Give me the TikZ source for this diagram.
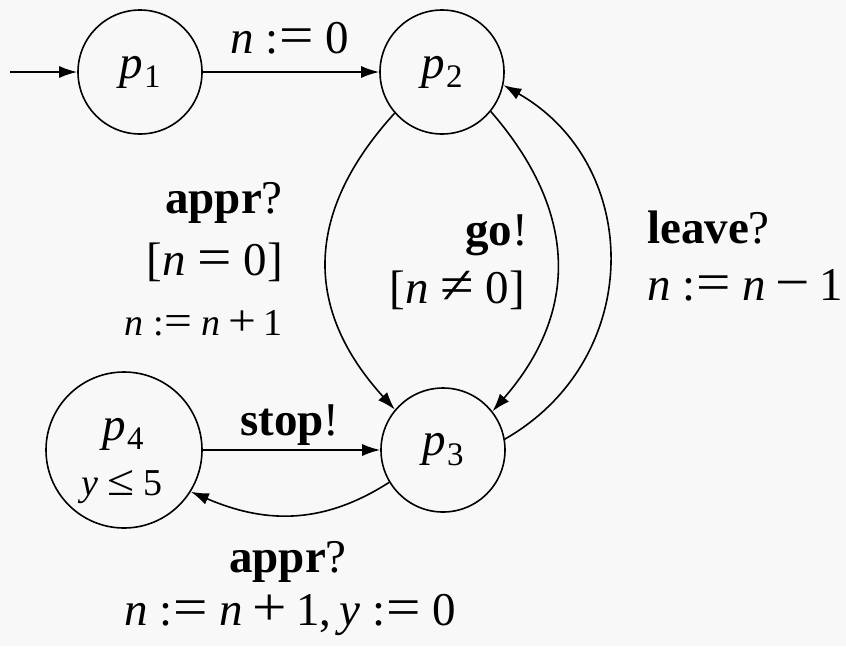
\documentclass[tikz,border=0pt]{standalone}
\usepackage{fontspec}
\setmainfont{Liberation Serif}
\usepackage{graphicx}
\usetikzlibrary{arrows.meta}
\definecolor{bgc}{RGB}{248,248,248}
\newcommand\vv[1]{\textit{#1}}
\newcommand\sbs[1]{\kern0.03em\raisebox{-0.21em}{\scalebox{0.7}{#1}}}
\newcommand\sym[1]{\scalebox{1.3}[1.15]{#1}}
\newcommand\asg{\hspace{0.25em}:\kern0.02em\sym{=}\hspace{0.25em}}
\newcommand\rl[1]{\hspace{0.25em}\sym{#1}\hspace{0.25em}}
\newcommand\bn[1]{\hspace{0.2em}\sym{#1}\hspace{0.2em}}
\begin{document}
\begin{tikzpicture}[x=1pt,y=-1pt,
  every node/.style={font=\fontsize{47}{56}\selectfont},
  state/.style={circle,draw,line width=1.6pt,inner sep=0pt,minimum size=124pt},
  edge/.style={-{Latex[length=18pt,width=12pt]},line width=1.6pt},
  lbl/.style={inner sep=0pt},
  small/.style={font=\fontsize{38}{44}\selectfont}]
\fill[bgc] (0,0) rectangle (846,646);
\useasboundingbox (0,0) rectangle (846,646);
\node[state] (p1) at (140,72) {\vv{p}\sbs{1}};
\node[state] (p2) at (442,72) {\vv{p}\sbs{2}};
\node[state] (p3) at (443,450) {\vv{p}\sbs{3}};
\node[state,minimum size=156pt] (p4) at (124,450) {};
\node[lbl,anchor=base] (p4n) at (123,440) {\vv{p}\sbs{4}};
\node[lbl,anchor=base,small] (p4i) at (122,495) {\vv{y}\rl{≤}5};
\coordinate (init) at (10,72);
\draw[edge] (init) -- (p1);
\draw[edge] (p1) -- (p2);
\node[lbl,anchor=base] (l12) at (290,53) {\vv{n}\asg 0};
\draw[edge] (p2.221) .. controls +(-91,100) and +(-91,-100) .. (p3.140);
\draw[edge] (p2.-39) .. controls +(87,100) and +(87,-100) .. (p3.38);
\draw[edge] (p3.10) .. controls +(140,-80) and +(140,80) .. (p2.-12);
\draw[edge] (p3.211) .. controls +(-70,45) and +(70,30) .. (p4.-32);
\draw[edge] (p4) -- (p3);
\node[lbl,anchor=base east] (a1) at (283,213) {\textbf{appr}?};
\node[lbl,anchor=base east] (a2) at (283,275) {[\vv{n}\rl{=}0]};
\node[lbl,anchor=base east,small] (a3) at (283,335) {\vv{n}\asg\vv{n}\bn{+}1};
\node[lbl,anchor=base east] (g1) at (528,245) {\textbf{go}!};
\node[lbl,anchor=base east] (g2) at (525,303) {[\vv{n}\rl{≠}0]};
\node[lbl,anchor=base west] (v1) at (647,243) {\textbf{leave}?};
\node[lbl,anchor=base west] (v2) at (647,300) {\vv{n}\asg\vv{n}\bn{−}1};
\node[lbl,anchor=base] (s1) at (290,435) {\textbf{stop}!};
\node[lbl,anchor=base] (b1) at (288,572) {\textbf{appr}?};
\node[lbl,anchor=base] (b2) at (290,625) {\vv{n}\asg\vv{n}\bn{+}1,\hspace{0.17em}\vv{y}\asg 0};
\end{tikzpicture}
\end{document}
